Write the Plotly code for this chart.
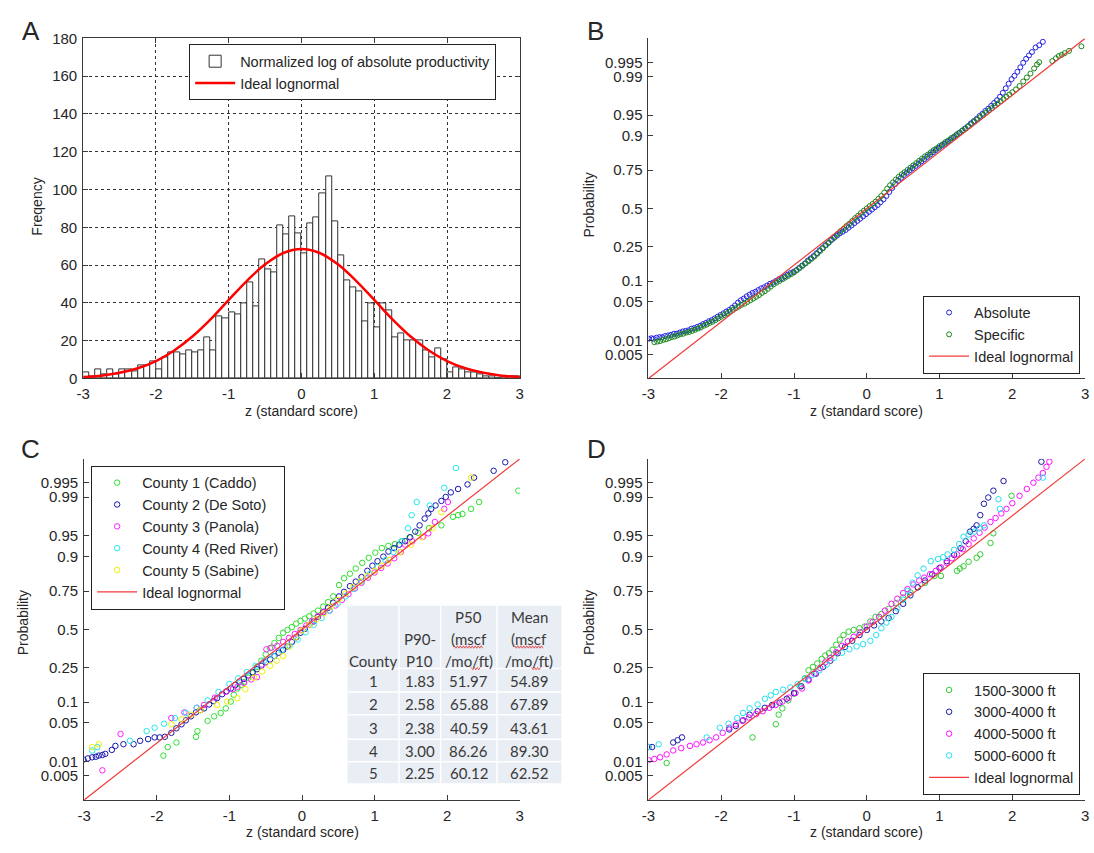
import plotly.graph_objects as go

W, H = 1094, 853

# ---------------- Panel A: histogram ----------------
HIST_BIN_START = -3.0
HIST_BIN_WIDTH = 1.0 / 12.0
HIST_COUNTS = [3, 1, 5, 2, 5, 2, 5, 5, 4, 7, 7, 9, 5, 11, 14, 14, 13, 15, 14, 15, 22, 15, 33, 32,
               35, 34, 40, 51, 38, 63, 58, 56, 81, 76, 86, 77, 66, 82, 85, 98, 107, 83, 65, 52, 48, 46, 30, 40,
               27, 40, 36, 22, 24, 20, 20, 20, 15, 11, 16, 10, 3, 6, 5, 3, 3, 2, 1, 1, 0, 1, 1, 1]
CURVE_Z = [-3.0, -2.75, -2.5, -2.25, -2.0, -1.75, -1.5, -1.25, -1.0, -0.75, -0.5, -0.25, 0.0,
           0.25, 0.5, 0.75, 1.0, 1.25, 1.5, 1.75, 2.0, 2.25, 2.5, 2.75, 3.0]
CURVE_FREQ = [0.8, 1.5, 3.0, 5.4, 9.2, 14.8, 22.2, 31.3, 41.6, 51.7, 60.4, 66.4, 68.5,
              66.4, 60.4, 51.7, 41.6, 31.3, 22.2, 14.8, 9.2, 5.4, 3.0, 1.5, 0.8]

# ---------------- probability axis ----------------
PROB_LABELS = ["0.005", "0.01", "0.05", "0.1", "0.25", "0.5", "0.75", "0.9", "0.95", "0.99", "0.995"]
PROB_Z = [-2.5758, -2.3263, -1.6449, -1.2816, -0.6745, 0.0, 0.6745, 1.2816, 1.6449, 2.3263, 2.5758]
IDEAL_Z = [-3.0, 3.0]

# ---------------- Panel B: (z, probability as z) ----------------
B_ABSOLUTE = [
    (-3.00, -2.30), (-2.96, -2.29), (-2.93, -2.30), (-2.89, -2.28), (-2.85, -2.27), (-2.81, -2.27), (-2.77, -2.25),
    (-2.73, -2.24), (-2.69, -2.23), (-2.65, -2.21), (-2.61, -2.21), (-2.57, -2.19), (-2.53, -2.17), (-2.49, -2.16),
    (-2.45, -2.15), (-2.41, -2.12), (-2.37, -2.11), (-2.33, -2.09), (-2.29, -2.07), (-2.25, -2.04), (-2.21, -2.02),
    (-2.17, -1.99), (-2.13, -1.97), (-2.09, -1.94), (-2.05, -1.91), (-2.01, -1.88), (-1.97, -1.85), (-1.93, -1.82),
    (-1.89, -1.79), (-1.85, -1.75), (-1.81, -1.71), (-1.77, -1.66), (-1.73, -1.62), (-1.69, -1.59), (-1.65, -1.55),
    (-1.61, -1.52), (-1.57, -1.49), (-1.53, -1.47), (-1.49, -1.44), (-1.45, -1.41), (-1.41, -1.39), (-1.37, -1.36),
    (-1.33, -1.33), (-1.29, -1.31), (-1.25, -1.28), (-1.21, -1.25), (-1.17, -1.23), (-1.13, -1.20), (-1.09, -1.17),
    (-1.05, -1.14), (-1.01, -1.12), (-0.97, -1.09), (-0.93, -1.05), (-0.89, -1.01), (-0.85, -0.97), (-0.81, -0.92),
    (-0.77, -0.88), (-0.73, -0.84), (-0.69, -0.79), (-0.65, -0.74), (-0.61, -0.70), (-0.57, -0.65), (-0.53, -0.61),
    (-0.49, -0.56), (-0.45, -0.52), (-0.41, -0.48), (-0.37, -0.44), (-0.33, -0.41), (-0.29, -0.38), (-0.25, -0.34),
    (-0.21, -0.30), (-0.17, -0.26), (-0.13, -0.22), (-0.09, -0.18), (-0.05, -0.14), (-0.01, -0.10), (0.03, -0.06),
    (0.07, -0.02), (0.11, 0.02), (0.15, 0.06), (0.19, 0.11), (0.23, 0.16), (0.27, 0.22), (0.31, 0.29), (0.35, 0.36),
    (0.39, 0.43), (0.43, 0.49), (0.47, 0.54), (0.51, 0.59), (0.55, 0.63), (0.59, 0.67), (0.63, 0.71), (0.67, 0.75),
    (0.71, 0.79), (0.75, 0.83), (0.79, 0.87), (0.83, 0.91), (0.87, 0.95), (0.91, 0.99), (0.95, 1.03), (0.99, 1.07),
    (1.03, 1.11), (1.07, 1.14), (1.11, 1.18), (1.15, 1.21), (1.19, 1.25), (1.23, 1.29), (1.27, 1.33), (1.31, 1.37),
    (1.35, 1.41), (1.39, 1.45), (1.43, 1.50), (1.47, 1.54), (1.51, 1.58), (1.55, 1.63), (1.59, 1.67), (1.63, 1.72),
    (1.67, 1.76), (1.71, 1.81), (1.75, 1.86), (1.79, 1.91), (1.83, 1.97), (1.87, 2.04), (1.91, 2.12), (1.95, 2.20),
    (1.99, 2.28), (2.03, 2.34), (2.07, 2.41), (2.11, 2.49), (2.15, 2.57), (2.19, 2.64), (2.23, 2.70), (2.27, 2.76),
    (2.32, 2.84), (2.37, 2.88), (2.42, 2.94)]
B_SPECIFIC = [
    (-2.92, -2.36), (-2.88, -2.35), (-2.84, -2.34), (-2.80, -2.32), (-2.76, -2.31), (-2.72, -2.29), (-2.68, -2.27),
    (-2.64, -2.26), (-2.60, -2.24), (-2.56, -2.22), (-2.52, -2.21), (-2.48, -2.19), (-2.44, -2.18), (-2.40, -2.16),
    (-2.36, -2.14), (-2.32, -2.12), (-2.28, -2.10), (-2.24, -2.07), (-2.20, -2.05), (-2.16, -2.02), (-2.12, -2.00),
    (-2.08, -1.97), (-2.04, -1.94), (-2.00, -1.91), (-1.96, -1.88), (-1.92, -1.85), (-1.88, -1.82), (-1.84, -1.79),
    (-1.80, -1.76), (-1.76, -1.73), (-1.72, -1.70), (-1.68, -1.68), (-1.64, -1.65), (-1.60, -1.62), (-1.56, -1.59),
    (-1.52, -1.56), (-1.48, -1.53), (-1.44, -1.49), (-1.40, -1.46), (-1.36, -1.42), (-1.32, -1.38), (-1.28, -1.34),
    (-1.24, -1.31), (-1.20, -1.28), (-1.16, -1.25), (-1.12, -1.22), (-1.08, -1.19), (-1.04, -1.16), (-1.00, -1.13),
    (-0.96, -1.09), (-0.92, -1.05), (-0.88, -1.01), (-0.84, -0.97), (-0.80, -0.93), (-0.76, -0.89), (-0.72, -0.85),
    (-0.68, -0.80), (-0.64, -0.75), (-0.60, -0.70), (-0.56, -0.65), (-0.52, -0.60), (-0.48, -0.55), (-0.44, -0.50),
    (-0.40, -0.45), (-0.36, -0.40), (-0.32, -0.36), (-0.28, -0.31), (-0.24, -0.27), (-0.20, -0.22), (-0.16, -0.17),
    (-0.12, -0.13), (-0.08, -0.08), (-0.04, -0.04), (0.00, 0.00), (0.04, 0.04), (0.08, 0.08), (0.12, 0.12),
    (0.16, 0.17), (0.20, 0.22), (0.24, 0.28), (0.28, 0.35), (0.32, 0.41), (0.36, 0.46), (0.40, 0.51), (0.44, 0.56),
    (0.48, 0.60), (0.52, 0.64), (0.56, 0.68), (0.60, 0.72), (0.64, 0.76), (0.68, 0.80), (0.72, 0.84), (0.76, 0.88),
    (0.80, 0.92), (0.84, 0.95), (0.88, 0.99), (0.92, 1.03), (0.96, 1.06), (1.00, 1.10), (1.04, 1.13), (1.08, 1.17),
    (1.12, 1.20), (1.16, 1.24), (1.20, 1.27), (1.24, 1.31), (1.28, 1.34), (1.32, 1.38), (1.36, 1.41), (1.40, 1.45),
    (1.44, 1.49), (1.48, 1.53), (1.52, 1.57), (1.56, 1.61), (1.60, 1.65), (1.64, 1.69), (1.68, 1.73), (1.72, 1.77),
    (1.76, 1.81), (1.80, 1.85), (1.84, 1.89), (1.88, 1.93), (1.92, 1.97), (1.96, 2.01), (2.00, 2.05), (2.05, 2.10),
    (2.10, 2.16), (2.15, 2.24), (2.20, 2.31), (2.25, 2.38), (2.30, 2.47), (2.34, 2.54), (2.37, 2.58), (2.55, 2.60),
    (2.60, 2.65), (2.64, 2.69), (2.68, 2.71), (2.72, 2.74), (2.78, 2.78), (2.95, 2.86)]

# ---------------- Panel C ----------------
C_COUNTY1 = [(-1.91, -2.22), (-1.85, -2.07), (-1.73, -1.99), (-1.46, -1.89), (-1.44, -1.79), (-1.30, -1.61),
             (-1.21, -1.53), (-1.12, -1.47), (-1.05, -1.39), (-0.98, -1.27), (-0.94, -1.15), (-0.89, -1.04),
             (-0.84, -0.98), (-0.80, -0.93), (-0.74, -0.85), (-0.68, -0.77), (-0.62, -0.66), (-0.56, -0.55),
             (-0.50, -0.44), (-0.44, -0.33), (-0.38, -0.24), (-0.32, -0.15), (-0.26, -0.06), (-0.20, -0.01),
             (-0.14, 0.04), (-0.08, 0.10), (-0.02, 0.15), (0.04, 0.19), (0.10, 0.23), (0.16, 0.28), (0.22, 0.33),
             (0.29, 0.40), (0.36, 0.48), (0.43, 0.58), (0.51, 0.78), (0.58, 0.90), (0.66, 0.98), (0.74, 1.07),
             (0.83, 1.17), (0.92, 1.26), (1.01, 1.35), (1.10, 1.43), (1.19, 1.47), (1.28, 1.50), (1.38, 1.55),
             (1.48, 1.62), (1.60, 1.70), (1.75, 1.78), (1.92, 1.83), (2.08, 1.98), (2.15, 2.01), (2.21, 2.03),
             (2.33, 2.12), (2.44, 2.24), (2.98, 2.44)]
C_COUNTY2 = [(-3.01, -2.29), (-2.95, -2.27), (-2.89, -2.25), (-2.84, -2.24), (-2.80, -2.22), (-2.75, -2.21),
             (-2.71, -2.19), (-2.62, -2.12), (-2.57, -2.05), (-2.46, -2.02), (-2.32, -2.02), (-2.23, -1.96),
             (-2.12, -1.93), (-2.03, -1.90), (-1.96, -1.90), (-1.89, -1.89), (-1.80, -1.82), (-1.73, -1.74),
             (-1.66, -1.67), (-1.60, -1.60), (-1.53, -1.53), (-1.46, -1.46), (-1.40, -1.42), (-1.35, -1.39),
             (-1.28, -1.32), (-1.22, -1.26), (-1.17, -1.21), (-1.10, -1.14), (-1.04, -1.09), (-0.98, -1.04),
             (-0.92, -0.98), (-0.86, -0.92), (-0.80, -0.87), (-0.74, -0.81), (-0.68, -0.75), (-0.62, -0.70),
             (-0.56, -0.64), (-0.50, -0.58), (-0.44, -0.53), (-0.38, -0.47), (-0.32, -0.41), (-0.26, -0.36),
             (-0.20, -0.30), (-0.14, -0.22), (-0.08, -0.14), (-0.02, -0.06), (0.04, 0.01), (0.10, 0.08),
             (0.16, 0.14), (0.22, 0.22), (0.29, 0.30), (0.36, 0.38), (0.43, 0.47), (0.51, 0.58), (0.58, 0.66),
             (0.66, 0.76), (0.74, 0.84), (0.82, 0.92), (0.90, 1.03), (0.97, 1.12), (1.04, 1.20), (1.12, 1.28),
             (1.19, 1.37), (1.27, 1.43), (1.34, 1.49), (1.42, 1.55), (1.49, 1.62), (1.56, 1.72), (1.62, 1.83),
             (1.69, 1.95), (1.74, 2.04), (1.78, 2.12), (1.84, 2.18), (1.92, 2.26), (1.98, 2.33), (2.05, 2.41),
             (2.15, 2.47), (2.28, 2.55), (2.37, 2.67), (2.64, 2.79), (2.80, 2.94)]
C_COUNTY3 = [(-2.75, -2.48), (-2.50, -1.84), (-1.80, -1.56), (-1.62, -1.46), (-1.45, -1.38), (-1.35, -1.33),
             (-1.20, -1.20), (-1.05, -1.10), (-0.95, -1.05), (-0.89, -1.01), (-0.80, -0.94), (-0.70, -0.88),
             (-0.62, -0.84), (-0.55, -0.62), (-0.49, -0.35), (-0.42, -0.32), (-0.34, -0.29), (-0.26, -0.22),
             (-0.18, -0.15), (-0.10, -0.08), (-0.02, -0.01), (0.06, 0.07), (0.14, 0.15), (0.22, 0.23),
             (0.30, 0.31), (0.38, 0.33), (0.46, 0.42), (0.55, 0.52), (0.64, 0.62), (0.73, 0.72), (0.82, 0.82),
             (0.91, 0.91), (1.00, 1.00), (1.09, 1.08), (1.18, 1.16), (1.27, 1.25), (1.36, 1.36), (1.42, 1.49),
             (1.52, 1.55), (1.67, 1.63), (1.74, 1.69), (1.83, 1.89), (1.96, 2.12), (2.01, 2.24)]
C_COUNTY4 = [(-2.89, -2.13), (-2.82, -2.07), (-2.37, -1.96), (-2.14, -1.79), (-2.03, -1.73), (-1.90, -1.66),
             (-1.75, -1.56), (-1.60, -1.47), (-1.45, -1.38), (-1.30, -1.25), (-1.15, -1.10), (-1.00, -0.96),
             (-0.88, -0.86), (-0.76, -0.75), (-0.64, -0.64), (-0.52, -0.55), (-0.39, -0.47), (-0.28, -0.37),
             (-0.17, -0.29), (-0.06, -0.18), (0.05, -0.05), (0.16, 0.08), (0.27, 0.20), (0.38, 0.33),
             (0.49, 0.45), (0.60, 0.58), (0.71, 0.71), (0.82, 0.84), (0.93, 0.97), (1.04, 1.10), (1.15, 1.22),
             (1.26, 1.36), (1.37, 1.55), (1.46, 1.78), (1.51, 2.01), (1.58, 2.24), (1.76, 2.18), (1.96, 2.49),
             (2.12, 2.84)]
C_COUNTY5 = [(-2.89, -2.07), (-2.80, -2.02), (-1.80, -1.67), (-1.66, -1.58), (-1.53, -1.50), (-1.40, -1.42),
             (-1.17, -1.33), (-1.03, -1.27), (-0.89, -1.21), (-0.78, -1.05), (-0.66, -0.85), (-0.55, -0.74),
             (-0.44, -0.64), (-0.35, -0.55), (-0.26, -0.47), (-0.18, -0.30), (-0.09, -0.14), (0.00, -0.02),
             (0.10, 0.08), (0.20, 0.18), (0.30, 0.28), (0.40, 0.40), (0.50, 0.52), (0.60, 0.63), (0.70, 0.74),
             (0.80, 0.84), (0.90, 0.94), (1.00, 1.03), (1.10, 1.12), (1.20, 1.22), (1.35, 1.36), (1.50, 1.49),
             (1.65, 1.62), (1.80, 1.78), (1.92, 2.06), (2.33, 2.67)]

# ---------------- Panel D ----------------
D_1500_3000 = [(-2.75, -2.35), (-1.57, -1.90), (-1.25, -1.67), (-1.21, -1.50), (-1.16, -1.39), (-1.08, -1.25),
               (-1.00, -1.13), (-0.92, -1.00), (-0.85, -0.86), (-0.80, -0.72), (-0.74, -0.66), (-0.68, -0.60),
               (-0.62, -0.52), (-0.57, -0.46), (-0.52, -0.42), (-0.47, -0.36), (-0.42, -0.27), (-0.37, -0.18),
               (-0.32, -0.10), (-0.25, -0.04), (-0.18, -0.01), (-0.10, 0.02), (-0.03, 0.05), (0.05, 0.14),
               (0.12, 0.22), (0.20, 0.27), (0.30, 0.36), (0.40, 0.46), (0.50, 0.56), (0.60, 0.65), (0.70, 0.74),
               (0.80, 0.82), (0.93, 0.94), (1.02, 0.94), (1.24, 1.03), (1.28, 1.07), (1.33, 1.11), (1.40, 1.19),
               (1.51, 1.26), (1.56, 1.32), (1.70, 1.52), (1.74, 1.69), (1.99, 2.35)]
D_3000_4000 = [(-3.0, -2.07), (-2.95, -2.07), (-2.66, -1.99), (-2.60, -1.95), (-2.54, -1.90), (-1.89, -1.76),
               (-1.80, -1.70), (-1.70, -1.60), (-1.61, -1.50), (-1.50, -1.44), (-1.40, -1.38), (-1.30, -1.33),
               (-1.20, -1.29), (-1.10, -1.22), (-1.00, -1.12), (-0.90, -1.00), (-0.80, -0.88), (-0.70, -0.78),
               (-0.60, -0.66), (-0.50, -0.55), (-0.40, -0.42), (-0.30, -0.31), (-0.20, -0.20), (-0.10, -0.10),
               (0.0, -0.01), (0.10, 0.07), (0.20, 0.14), (0.30, 0.20), (0.40, 0.32), (0.50, 0.45), (0.60, 0.60),
               (0.70, 0.74), (0.80, 0.86), (0.90, 0.97), (1.00, 1.08), (1.10, 1.20), (1.20, 1.31), (1.29, 1.43),
               (1.36, 1.55), (1.42, 1.72), (1.47, 1.77), (1.51, 1.83), (1.56, 2.01), (1.61, 2.21), (1.67, 2.32),
               (1.74, 2.44), (1.88, 2.61), (2.40, 2.95)]
D_4000_5000 = [(-3.0, -2.30), (-2.92, -2.28), (-2.84, -2.25), (-2.75, -2.20), (-2.66, -2.13), (-2.55, -2.09),
               (-2.43, -2.05), (-2.34, -2.02), (-2.25, -1.99), (-2.16, -1.95), (-2.07, -1.90), (-1.98, -1.82),
               (-1.89, -1.73), (-1.80, -1.67), (-1.71, -1.61), (-1.62, -1.55), (-1.52, -1.49), (-1.43, -1.44),
               (-1.34, -1.38), (-1.25, -1.33), (-1.16, -1.27), (-1.07, -1.20), (-0.98, -1.12), (-0.89, -1.04),
               (-0.80, -0.90), (-0.72, -0.78), (-0.64, -0.68), (-0.57, -0.58), (-0.50, -0.50), (-0.42, -0.40),
               (-0.34, -0.29), (-0.26, -0.21), (-0.18, -0.13), (-0.09, -0.05), (0.0, 0.05), (0.08, 0.13),
               (0.17, 0.22), (0.25, 0.33), (0.34, 0.45), (0.42, 0.54), (0.50, 0.64), (0.56, 0.71), (0.64, 0.79),
               (0.72, 0.86), (0.79, 0.91), (0.87, 0.97), (0.95, 1.03), (1.02, 1.09), (1.10, 1.17), (1.17, 1.25),
               (1.24, 1.32), (1.32, 1.41), (1.40, 1.50), (1.47, 1.60), (1.55, 1.70), (1.62, 1.79), (1.70, 1.89),
               (1.77, 1.96), (1.85, 2.04), (1.92, 2.12), (2.00, 2.22), (2.10, 2.35), (2.20, 2.47), (2.29, 2.58),
               (2.36, 2.67), (2.42, 2.75), (2.47, 2.86), (2.51, 2.95)]
D_5000_6000 = [(-3.0, -2.07), (-2.86, -2.02), (-2.20, -1.90), (-2.02, -1.73), (-1.90, -1.66), (-1.78, -1.56),
               (-1.70, -1.47), (-1.61, -1.39), (-1.50, -1.32), (-1.40, -1.22), (-1.32, -1.16), (-1.25, -1.10),
               (-1.15, -1.06), (-1.05, -1.02), (-0.95, -0.96), (-0.85, -0.87), (-0.75, -0.80), (-0.65, -0.72),
               (-0.55, -0.62), (-0.45, -0.50), (-0.34, -0.41), (-0.24, -0.35), (-0.14, -0.30), (-0.05, -0.26),
               (0.05, -0.20), (0.13, -0.10), (0.20, 0.02), (0.27, 0.12), (0.34, 0.22), (0.42, 0.37), (0.50, 0.52),
               (0.56, 0.68), (0.63, 0.82), (0.70, 0.95), (0.78, 1.07), (0.88, 1.20), (0.98, 1.24), (1.05, 1.27),
               (1.11, 1.32), (1.20, 1.40), (1.27, 1.50), (1.33, 1.63), (1.40, 1.67), (1.48, 1.72), (1.55, 1.78),
               (1.61, 1.83), (1.81, 2.29), (1.83, 2.12), (2.42, 2.67)]

# ---------------- Table in panel C ----------------
TABLE_HEADER_LINES = [["", "", "County"], ["", "P90-", "P10"], ["P50", "(mscf", "/mo/ft)"], ["Mean", "(mscf", "/mo/ft)"]]
TABLE_COUNTY = ["1", "2", "3", "4", "5"]
TABLE_P90_P10 = ["1.83", "2.58", "2.38", "3.00", "2.25"]
TABLE_P50 = ["51.97", "65.88", "40.59", "86.26", "60.12"]
TABLE_MEAN = ["54.89", "67.89", "43.61", "89.30", "62.52"]

# table geometry (pixels)
TBL_COL_EDGES = [344, 396, 438, 495, 560]
TBL_ROW_EDGES = [609, 673, 697, 720, 745, 768, 790]
TBL_HEADER_LINE_Y = [620, 642.5, 665]

FONT = "Liberation Sans, Arial, sans-serif"
TFONT = "Lato, Open Sans, sans-serif"
TXT = "#262626"
AX = "#3a3a3a"
RED = "#f03a3a"


def px(x):
    return x / W


def py(y):
    return 1 - y / H


def dom_x(a, b):
    return [px(a), px(b)]


def dom_y(top, bottom):
    return [py(bottom), py(top)]


def xs(pairs):
    return [p[0] for p in pairs]


def ys(pairs):
    return [p[1] for p in pairs]


fig = go.Figure()

# Panel A
hist_centers = [HIST_BIN_START + (i + 0.5) * HIST_BIN_WIDTH for i in range(len(HIST_COUNTS))]
fig.add_trace(go.Bar(x=hist_centers, y=HIST_COUNTS, width=HIST_BIN_WIDTH,
                     marker=dict(color="white", line=dict(color="#333333", width=1)),
                     name="Normalized log of absolute productivity", legend="legend",
                     xaxis="x", yaxis="y"))
fig.add_trace(go.Scatter(x=CURVE_Z, y=CURVE_FREQ, mode="lines", line=dict(color="#ff0000", width=2.5, shape="spline"),
                         name="Ideal lognormal", legend="legend", xaxis="x", yaxis="y"))


def add_points(pairs, name, color, xa, ya, leg, size=5):
    fig.add_trace(go.Scatter(x=xs(pairs), y=ys(pairs), mode="markers", name=name,
                             marker=dict(symbol="circle-open", size=size, color=color, line=dict(width=1, color=color)),
                             legend=leg, xaxis=xa, yaxis=ya))


def add_ideal(xa, ya, leg):
    fig.add_trace(go.Scatter(x=IDEAL_Z, y=IDEAL_Z, mode="lines", name="Ideal lognormal",
                             line=dict(color=RED, width=1.2), legend=leg, xaxis=xa, yaxis=ya))


# Panel B
add_points(B_ABSOLUTE, "Absolute", "#2424e6", "x2", "y2", "legend2")
add_points(B_SPECIFIC, "Specific", "#1a861a", "x2", "y2", "legend2")
add_ideal("x2", "y2", "legend2")

# Panel C
add_points(C_COUNTY1, "County 1 (Caddo)", "#2ee02e", "x3", "y3", "legend3", 5.5)
add_points(C_COUNTY2, "County 2 (De Soto)", "#1818b0", "x3", "y3", "legend3", 5.5)
add_points(C_COUNTY3, "County 3 (Panola)", "#ff20ff", "x3", "y3", "legend3", 5.5)
add_points(C_COUNTY4, "County 4 (Red River)", "#22e8ee", "x3", "y3", "legend3", 5.5)
add_points(C_COUNTY5, "County 5 (Sabine)", "#f2f200", "x3", "y3", "legend3", 5.5)
add_ideal("x3", "y3", "legend3")

# Panel D
add_points(D_1500_3000, "1500-3000 ft", "#33cc33", "x4", "y4", "legend4", 5.5)
add_points(D_3000_4000, "3000-4000 ft", "#1a1aa6", "x4", "y4", "legend4", 5.5)
add_points(D_4000_5000, "4000-5000 ft", "#ff10ff", "x4", "y4", "legend4", 5.5)
add_points(D_5000_6000, "5000-6000 ft", "#22e0ee", "x4", "y4", "legend4", 5.5)
add_ideal("x4", "y4", "legend4")

tickfont = dict(family=FONT, size=15, color=TXT)


def base_axis(**kw):
    d = dict(showline=True, linecolor=AX, linewidth=1, ticks="inside", ticklen=5, tickcolor=AX,
             zeroline=False, showgrid=False, tickfont=tickfont, ticklabelstandoff=2, fixedrange=True)
    d.update(kw)
    return d


xt = dict(tickvals=[-3, -2, -1, 0, 1, 2, 3], ticktext=["-3", "-2", "-1", "0", "1", "2", "3"], range=[-3, 3])
prob_y = dict(tickvals=PROB_Z, ticktext=PROB_LABELS, range=[-3, 3])
grid = dict(showgrid=True, gridcolor="#333333", gridwidth=1, griddash="3px,3px", mirror="ticks")

layout_axes = dict(
    xaxis=base_axis(domain=dom_x(77, 518), anchor="y", **xt, **grid),
    yaxis=base_axis(domain=dom_y(30, 377), anchor="x", range=[0, 180], tickvals=list(range(0, 181, 20)), **grid),
    xaxis2=base_axis(domain=dom_x(648, 1089), anchor="y2", **xt),
    yaxis2=base_axis(domain=dom_y(30, 377), anchor="x2", **prob_y),
    xaxis3=base_axis(domain=dom_x(78, 518), anchor="y3", **xt),
    yaxis3=base_axis(domain=dom_y(459, 807), anchor="x3", **prob_y),
    xaxis4=base_axis(domain=dom_x(648, 1089), anchor="y4", **xt),
    yaxis4=base_axis(domain=dom_y(459, 807), anchor="x4", **prob_y),
)


def leg(x, y, xanchor, yanchor):
    return dict(x=px(x), y=py(y), xanchor=xanchor, yanchor=yanchor, bgcolor="white",
                bordercolor="#222222", borderwidth=1, font=dict(family=FONT, size=14.5, color=TXT),
                itemwidth=40, tracegroupgap=0, traceorder="normal")


annotations = []
shapes = []


def ann(text, x, y, size=14, angle=0, family=FONT, color=TXT):
    annotations.append(dict(text=text, x=px(x), y=py(y), xref="paper", yref="paper", showarrow=False,
                            xanchor="center", yanchor="middle", textangle=angle,
                            font=dict(family=family, size=size, color=color)))


ann("z (standard score)", 297.5, 410)
ann("z (standard score)", 868.5, 410)
ann("z (standard score)", 298, 840)
ann("z (standard score)", 868.5, 840)
ann("Freqency", 30, 202, angle=-90)
ann("Probability", 587.5, 200, angle=-90)
ann("Probability", 16, 626, angle=-90)
ann("Probability", 587.5, 626, angle=-90)
ann("A", 24, 22, size=26)
ann("B", 594, 22, size=26)
ann("C", 24, 449, size=26)
ann("D", 595, 449, size=26)

# ---- table (panel C) drawn with shapes + text ----
TABLE_FILL = "#e9edf4"
shapes.append(dict(type="rect", xref="paper", yref="paper",
                   x0=px(TBL_COL_EDGES[0]), x1=px(TBL_COL_EDGES[-1]),
                   y0=py(TBL_ROW_EDGES[-1]), y1=py(TBL_ROW_EDGES[0]),
                   fillcolor=TABLE_FILL, line=dict(width=0), layer="above"))
for xe in TBL_COL_EDGES[1:-1]:
    shapes.append(dict(type="line", xref="paper", yref="paper", x0=px(xe), x1=px(xe),
                       y0=py(TBL_ROW_EDGES[-1]), y1=py(TBL_ROW_EDGES[0]),
                       line=dict(color="white", width=1.5), layer="above"))
for ye in TBL_ROW_EDGES[1:-1]:
    shapes.append(dict(type="line", xref="paper", yref="paper", x0=px(TBL_COL_EDGES[0]), x1=px(TBL_COL_EDGES[-1]),
                       y0=py(ye), y1=py(ye), line=dict(color="white", width=1.5), layer="above"))

col_centers = [(TBL_COL_EDGES[i] + TBL_COL_EDGES[i + 1]) / 2 for i in range(4)]
for ci, lines in enumerate(TABLE_HEADER_LINES):
    for li, t in enumerate(lines):
        if t:
            ann(t, col_centers[ci], TBL_HEADER_LINE_Y[li], size=15, family=TFONT, color="#3a3a3a")

for ci, column in enumerate([TABLE_COUNTY, TABLE_P90_P10, TABLE_P50, TABLE_MEAN]):
    for ri, t in enumerate(column):
        yc = (TBL_ROW_EDGES[ri + 1] + TBL_ROW_EDGES[ri + 2]) / 2 + 1
        ann(t, col_centers[ci], yc, size=15, family=TFONT, color="#3a3a3a")


# spell-check squiggles under "mscf" and "ft"
def squiggle(x0, x1, y):
    pts = []
    x = x0
    k = 0
    while x <= x1:
        pts.append((x, y + (1.2 if k % 2 else -1.2)))
        x += 1.5
        k += 1
    path = "M " + " L ".join(f"{px(a):.5f},{py(b):.5f}" for a, b in pts)
    shapes.append(dict(type="path", xref="paper", yref="paper", path=path,
                       line=dict(color="#e03030", width=0.8), layer="above"))


squiggle(452, 481, 651)
squiggle(513, 542, 651)
squiggle(469, 479, 673)
squiggle(530, 540, 673)

fig.update_layout(
    width=W, height=H, autosize=False,
    margin=dict(l=0, r=0, t=0, b=0),
    paper_bgcolor="white", plot_bgcolor="white",
    showlegend=True, bargap=0,
    legend=leg(184, 36, "left", "top"),
    legend2=leg(1084, 372, "right", "bottom"),
    legend3=leg(85, 466, "left", "top"),
    legend4=leg(1084, 802, "right", "bottom"),
    annotations=annotations,
    shapes=shapes,
    font=dict(family=FONT, color=TXT),
    **layout_axes,
)

fig.write_html("out.html", config={"displayModeBar": False},
               post_script="document.body.style.margin='0';document.body.style.overflow='hidden';")
